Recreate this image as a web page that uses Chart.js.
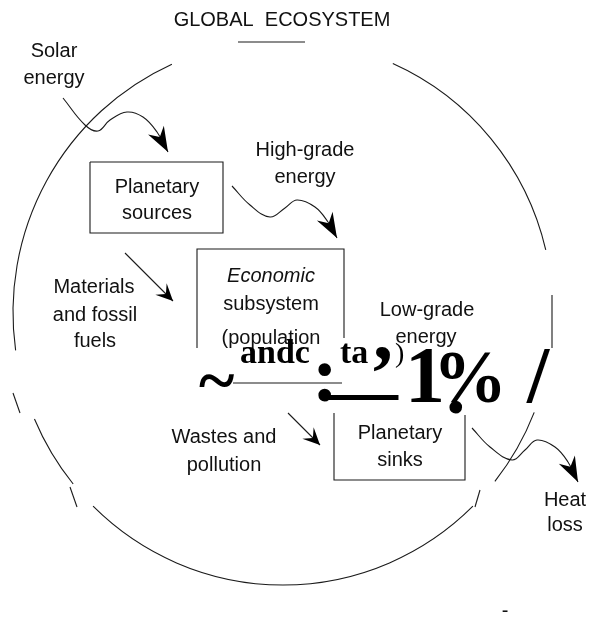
<!DOCTYPE html>
<html>
<head>
<meta charset="utf-8">
<script src="https://cdn.jsdelivr.net/npm/chart.js@4.4.1/dist/chart.umd.min.js"></script>
<style>
  html, body { margin: 0; padding: 0; background: #fff; }
  #wrap { width: 591px; height: 617px; }
</style>
</head>
<body>
<div id="wrap"><canvas id="ecoChart"></canvas></div>
<script>
// diagram units follow the printed figure: x to the right, y downwards
const boxSources = [[90,162],[223,162],[223,233],[90,233],[90,162]];
const boxEconomic = [[197,348],[197,249],[344,249],[344,338]];
const boxEconomicBase = [[233,383],[342,383]];
const boxSinks = [[334,413],[334,480],[465,480],[465,415]];
const titleRule = [[238,42],[305,42]];

const solarPath = [[63,98],[85,125],[98,131],[110,120],[127,112],[143,117],[157,132],[168,152]];
const highGradePath = [[232,186],[250,205],[270,217],[285,208],[297,200],[315,207],[328,222],[337,238]];
const heatPath = [[472,428],[490,447],[512,460],[525,450],[537,440],[555,447],[568,462],[578,482]];
const materialsPath = [[125,253],[173,301]];
const wastesPath = [[288,413],[320,445]];

// the ecosystem boundary: ellipse centre, radii, and the drawn arcs (degrees)
const boundaryCentre = [283, 312.5];
const boundaryRadii = [270, 272.5];
const boundaryArcs = [[172,245.7],[141,157],[45.3,134.7],[21.5,38.3],[-66,-13.3]];
const boundaryStrokes = [
  [[13,393],[20,413]],
  [[70,487],[77,507]],
  [[475,507],[480,490]],
  [[552,295],[552,348]]
];

const labelText = ["GLOBAL  ECOSYSTEM","Solar","energy","Planetary","sources","High-grade","energy",
  "Materials","and fossil","fuels","Economic","subsystem","(population","Low-grade","energy",
  "Wastes and","pollution","Planetary","sinks","Heat","loss","-"];
const labelPos = [[282,20],[54,51],[54,78],[157,187],[157,213],[305,150],[305,177],
  [94,287],[95,315],[95,341],[271,276],[271,304],[271,338],[427,310],[426,337],
  [224,437],[224,465],[400,433],[400,460],[565,500],[565,525],[505,611]];

// scanning debris printed over the economic subsystem box
const noiseText = ["andc","ta",",",")","~",":","\u2014","1","%",".","/"];
const noisePos = [[240,363],[340,363],[373,359],[395,362],[199,403],[312,401],[328,414],[405,402],[433,402],[446,413],[527,402]];
const noiseSize = [34,34,80,28,68,78,70,80,74,78,80];
const noiseBold = [true,true,true,false,true,true,true,true,true,true,true];

function toPoints(arr) {
  return arr.map(p => ({x: p[0], y: p[1]}));
}

function lineSet(arr, curved) {
  return {
    data: toPoints(arr),
    showLine: true,
    fill: false,
    borderColor: "#1a1a1a",
    borderWidth: 1.1,
    pointRadius: 0,
    tension: curved ? 0.4 : 0
  };
}

function arrowHead(ctx, sx, sy, from, tip, len, half, notch) {
  const x1 = sx.getPixelForValue(from[0]), y1 = sy.getPixelForValue(from[1]);
  const x2 = sx.getPixelForValue(tip[0]), y2 = sy.getPixelForValue(tip[1]);
  const d = Math.hypot(x2 - x1, y2 - y1);
  const ux = (x2 - x1) / d, uy = (y2 - y1) / d;
  const nx = -uy, ny = ux;
  ctx.beginPath();
  ctx.moveTo(x2, y2);
  ctx.lineTo(x2 - ux * len + nx * half, y2 - uy * len + ny * half);
  ctx.lineTo(x2 - ux * (len - notch), y2 - uy * (len - notch));
  ctx.lineTo(x2 - ux * len - nx * half, y2 - uy * len - ny * half);
  ctx.closePath();
  ctx.fill();
}

const diagramPlugin = {
  id: "diagramExtras",
  afterDatasetsDraw(chart) {
    const ctx = chart.ctx;
    const sx = chart.scales.x, sy = chart.scales.y;
    ctx.save();
    ctx.strokeStyle = "#1a1a1a";
    ctx.fillStyle = "#000";
    ctx.lineWidth = 1.1;

    const cx = sx.getPixelForValue(boundaryCentre[0]);
    const cy = sy.getPixelForValue(boundaryCentre[1]);
    const rx = sx.getPixelForValue(boundaryCentre[0] + boundaryRadii[0]) - cx;
    const ry = sy.getPixelForValue(boundaryCentre[1] + boundaryRadii[1]) - cy;
    boundaryArcs.forEach(a => {
      ctx.beginPath();
      ctx.ellipse(cx, cy, rx, ry, 0, a[0] * Math.PI / 180, a[1] * Math.PI / 180);
      ctx.stroke();
    });

    arrowHead(ctx, sx, sy, solarPath[6], solarPath[7], 25, 9, 8);
    arrowHead(ctx, sx, sy, highGradePath[6], highGradePath[7], 25, 9, 8);
    arrowHead(ctx, sx, sy, heatPath[6], heatPath[7], 25, 9, 8);
    arrowHead(ctx, sx, sy, materialsPath[0], materialsPath[1], 17, 8, 7);
    arrowHead(ctx, sx, sy, wastesPath[0], wastesPath[1], 17, 8, 7);

    ctx.textAlign = "center";
    ctx.textBaseline = "middle";
    ctx.fillStyle = "#111";
    labelText.forEach((t, i) => {
      const italic = t === "Economic" ? "italic " : "";
      ctx.font = italic + "20px 'Liberation Sans', Arial, sans-serif";
      ctx.fillText(t, sx.getPixelForValue(labelPos[i][0]), sy.getPixelForValue(labelPos[i][1]));
    });

    ctx.textAlign = "left";
    ctx.textBaseline = "alphabetic";
    ctx.fillStyle = "#000";
    noiseText.forEach((t, i) => {
      ctx.font = (noiseBold[i] ? "bold " : "") + noiseSize[i] + "px 'Liberation Serif', 'Times New Roman', serif";
      ctx.fillText(t, sx.getPixelForValue(noisePos[i][0]), sy.getPixelForValue(noisePos[i][1]));
    });
    ctx.restore();
  }
};

function drawDiagram() {
  const sets = [
    lineSet(boxSources), lineSet(boxEconomic), lineSet(boxEconomicBase), lineSet(boxSinks),
    lineSet(titleRule),
    lineSet(solarPath, true), lineSet(highGradePath, true), lineSet(heatPath, true),
    lineSet(materialsPath), lineSet(wastesPath)
  ];
  boundaryStrokes.forEach(s => sets.push(lineSet(s)));

  new Chart("ecoChart", {
    type: "scatter",
    data: { datasets: sets },
    options: {
      animation: false,
      responsive: true,
      maintainAspectRatio: false,
      events: [],
      layout: { padding: 0 },
      plugins: {
        legend: { display: false },
        tooltip: { enabled: false }
      },
      scales: {
        x: { type: "linear", min: 0, max: 591, display: false },
        y: { type: "linear", min: 0, max: 617, reverse: true, display: false }
      }
    },
    plugins: [diagramPlugin]
  });
}

drawDiagram();
</script>
</body>
</html>
